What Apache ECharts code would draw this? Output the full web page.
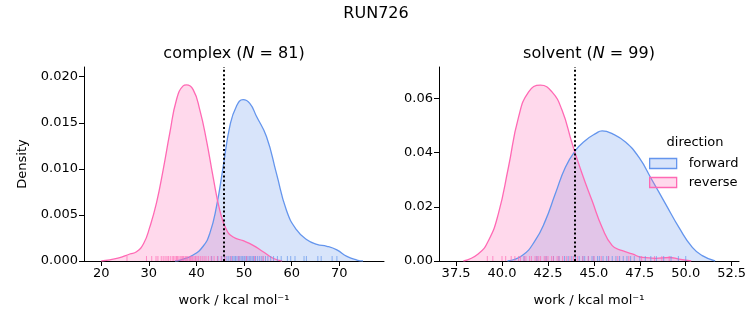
<!DOCTYPE html>
<html>
<head>
<meta charset="utf-8">
<script src="https://cdn.jsdelivr.net/npm/echarts@6/dist/echarts.min.js"></script>
<style>
html,body{margin:0;padding:0;background:#fff;}
#chart{width:753px;height:325px;}
</style>
</head>
<body>
<div id="chart"></div>
<script>
// ---- data ----
const suptitle = 'RUN726';
const panelNames = ['complex', 'solvent'];
const panelN = [81, 99];
const directions = ['forward', 'reverse'];
const xAxisName = 'work / kcal mol⁻¹';

// complex panel: KDE curves
const complexFwdX = [35.5, 36.6, 39.3, 41.4, 42.8, 44.2, 45.6, 47.0, 48.4, 49.8, 51.2, 52.6, 54.7, 56.8, 58.9, 61.0, 63.2, 65.3, 67.4, 69.5, 71.6, 73.7, 75.0];
const complexFwdY = [0.0, 0.0001, 0.00065, 0.0016, 0.0030, 0.0059, 0.0102, 0.0146, 0.0168, 0.0175, 0.0171, 0.0157, 0.0135, 0.0095, 0.0055, 0.0034, 0.0023, 0.0018, 0.0016, 0.0012, 0.0005, 0.0001, 0.0];
const complexRevX = [20.0, 23.5, 26.0, 27.4, 28.9, 30.2, 31.6, 33.0, 34.4, 35.8, 37.2, 37.9, 39.3, 40.7, 42.1, 43.5, 44.9, 46.3, 47.7, 49.8, 51.9, 54.0, 56.1, 58.0];
const complexRevY = [0.0, 0.0003, 0.00076, 0.0010, 0.0019, 0.0037, 0.0063, 0.0099, 0.0139, 0.0175, 0.0190, 0.0191, 0.0186, 0.0164, 0.0131, 0.0091, 0.0055, 0.0034, 0.0026, 0.0022, 0.0017, 0.0010, 0.0003, 0.0];
// complex panel: rug samples
const complexFwdRug = [43.2, 44.5, 45.3, 45.9, 46.4, 46.8, 47.2, 47.6, 47.9, 48.2, 48.5, 48.8, 49.1, 49.4, 49.7, 50.0, 50.2, 50.5, 50.8, 51.1, 51.4, 51.7, 52.0, 52.4, 52.8, 53.2, 53.6, 54.0, 54.5, 55.0, 55.6, 56.2, 57.0, 57.8, 59.1, 59.8, 60.7, 62.6, 63.1, 65.5, 66.2, 68.5, 69.5];
const complexRevRug = [25.4, 29.5, 30.6, 31.5, 31.9, 32.6, 33.0, 33.4, 33.8, 34.1, 34.5, 34.9, 35.2, 35.5, 35.8, 36.0, 36.3, 36.6, 36.9, 37.1, 37.3, 37.6, 37.8, 38.0, 38.2, 38.5, 38.7, 38.9, 39.2, 39.5, 39.8, 40.1, 40.4, 40.8, 41.2, 41.6, 42.0, 42.5, 43.1, 43.7, 44.4, 45.2, 46.0, 47.3, 48.9, 50.5, 52.2, 54.0];
const complexCutoff = 45.8;

// solvent panel: KDE curves
const solventFwdX = [40.3, 41.1, 41.8, 42.36, 42.9, 43.45, 44.0, 44.54, 45.09, 45.45, 46.0, 46.72, 47.45, 48.18, 48.9, 49.63, 50.36, 50.9, 51.6];
const solventFwdY = [0.0, 0.002, 0.0075, 0.0149, 0.0248, 0.0346, 0.0408, 0.0445, 0.0470, 0.0480, 0.0470, 0.0439, 0.0383, 0.0297, 0.0211, 0.0124, 0.0050, 0.0020, 0.0];
const solventRevX = [37.9, 38.7, 39.26, 39.8, 40.35, 40.9, 41.45, 42.09, 42.72, 43.27, 43.82, 44.36, 44.9, 45.45, 46.0, 46.55, 47.09, 47.64, 48.36, 49.1, 49.63, 50.3];
const solventRevY = [0.0, 0.0026, 0.0075, 0.0174, 0.0346, 0.0531, 0.0624, 0.0649, 0.0624, 0.0556, 0.0433, 0.0322, 0.0223, 0.0124, 0.0057, 0.0038, 0.0026, 0.0013, 0.0010, 0.0013, 0.0007, 0.0];
// solvent panel: rug samples
const solventFwdRug = [41.2, 41.9, 42.4, 42.8, 43.1, 43.4, 43.6, 43.8, 44.0, 44.2, 44.4, 44.5, 44.7, 44.9, 45.0, 45.2, 45.3, 45.5, 45.7, 45.8, 46.0, 46.2, 46.4, 46.6, 46.8, 47.0, 47.2, 47.5, 47.8, 48.1, 48.4, 48.8, 49.2, 49.6, 50.0];
const solventRevRug = [39.2, 39.5, 40.0, 40.2, 40.5, 40.7, 40.9, 41.0, 41.2, 41.3, 41.5, 41.6, 41.8, 41.9, 42.0, 42.1, 42.3, 42.4, 42.5, 42.7, 42.8, 43.0, 43.1, 43.3, 43.5, 43.7, 43.9, 44.1, 44.4, 44.7, 45.0, 45.4, 45.8, 46.3, 46.9, 47.6, 48.3, 48.7, 49.1];
const solventCutoff = 43.95;

// tick labels
const complexXTicks = [20, 30, 40, 50, 60, 70];
const complexYTicks = [0, 0.005, 0.010, 0.015, 0.020];
const solventXTicks = [37.5, 40.0, 42.5, 45.0, 47.5, 50.0, 52.5];
const solventYTicks = [0, 0.02, 0.04, 0.06];

// ---- styling ----
const FONT = 'DejaVu Sans';
const BLUE = '#6495ED', PINK = '#FF69B4';
const BLUE_FILL = 'rgba(100,149,237,0.25)', PINK_FILL = 'rgba(255,105,180,0.25)';

const zip = (xs, ys) => xs.map((x, i) => [x, ys[i]]);
const rug = xs => xs.map(x => [x, 0]);

function xAxisCfg(grid, min, max, ticks, dec) {
  return {
    type: 'value', gridIndex: grid, min: min, max: max,
    name: xAxisName, nameLocation: 'middle', nameGap: 33,
    nameTextStyle: {fontFamily: FONT, fontSize: 13, color: '#000'},
    axisLine: {show: true, onZero: false, lineStyle: {color: '#000', width: 1}},
    axisTick: {show: true, length: 5, lineStyle: {color: '#000', width: 1}, customValues: ticks},
    axisLabel: {fontFamily: FONT, fontSize: 13, color: '#000', margin: 6, customValues: ticks,
      formatter: v => v.toFixed(dec)},
    splitLine: {show: false}
  };
}
function yAxisCfg(grid, max, ticks, dec, name) {
  return {
    type: 'value', gridIndex: grid, min: 0, max: max,
    name: name, nameLocation: 'middle', nameGap: 55, nameRotate: 90,
    nameTextStyle: {fontFamily: FONT, fontSize: 13, color: '#000'},
    axisLine: {show: true, lineStyle: {color: '#000', width: 1}},
    axisTick: {show: true, length: 5, lineStyle: {color: '#000', width: 1}, customValues: ticks},
    axisLabel: {fontFamily: FONT, fontSize: 13, color: '#000', margin: 6, customValues: ticks,
      formatter: v => v.toFixed(dec)},
    splitLine: {show: false}
  };
}
function kde(name, grid, data, color, fill, cut) {
  const s = {
    name: name, type: 'line', xAxisIndex: grid, yAxisIndex: grid,
    data: data, smooth: 0.5, showSymbol: false, symbol: 'none', sampling: null,
    lineStyle: {color: color, width: 1.3}, itemStyle: {color: fill},
    areaStyle: {color: fill, opacity: 1, origin: 'start'}, silent: true, z: 2
  };
  if (cut !== undefined) {
    s.markLine = {silent: true, symbol: 'none', label: {show: false},
      lineStyle: {color: '#000', width: 2, type: [2, 2.4]},
      data: [{xAxis: cut}], z: 5};
  }
  return s;
}
function rugSeries(name, grid, data, color) {
  return {
    name: name, type: 'scatter', xAxisIndex: grid, yAxisIndex: grid,
    data: data, symbol: 'rect', symbolSize: [1, 5], symbolOffset: [0, -2.5],
    itemStyle: {color: color, opacity: 0.7}, silent: true, z: 3
  };
}
function panelTitle(i, cx) {
  return {
    text: '{a|' + panelNames[i] + ' (}{i|N}{a| = ' + panelN[i] + ')}',
    left: cx, top: 46, textAlign: 'center', padding: 0,
    textStyle: {fontWeight: 'normal', rich: {
      a: {fontFamily: FONT, fontSize: 16, fontWeight: 'normal', color: '#000'},
      i: {fontFamily: FONT, fontSize: 16, fontWeight: 'normal', fontStyle: 'italic', color: '#000'}
    }}
  };
}

const chart = echarts.init(document.getElementById('chart'), null, {renderer: 'canvas'});
chart.setOption({
  backgroundColor: '#fff',
  animation: false,
  title: [
    {text: suptitle, left: 376, top: 6, textAlign: 'center', padding: 0,
     textStyle: {fontFamily: FONT, fontSize: 16, fontWeight: 'normal', color: '#000'}},
    panelTitle(0, 234),
    panelTitle(1, 589),
    {text: 'direction', left: 695, top: 136, textAlign: 'center', padding: 0,
     textStyle: {fontFamily: FONT, fontSize: 13, fontWeight: 'normal', color: '#000'}}
  ],
  legend: {
    orient: 'vertical', left: 649, top: 157, itemWidth: 27, itemHeight: 10, itemGap: 6,
    padding: 0, selectedMode: false,
    textStyle: {fontFamily: FONT, fontSize: 13, color: '#000', padding: [0, 0, 0, 7]},
    data: [
      {name: directions[0], icon: 'rect', itemStyle: {color: BLUE_FILL, borderColor: BLUE, borderWidth: 1.3}},
      {name: directions[1], icon: 'rect', itemStyle: {color: PINK_FILL, borderColor: PINK, borderWidth: 1.3}}
    ]
  },
  grid: [
    {left: 84, top: 67, width: 300, height: 194, outerBoundsMode: 'none'},
    {left: 439, top: 67, width: 300, height: 194, outerBoundsMode: 'none'}
  ],
  xAxis: [
    xAxisCfg(0, 16.37, 79.4, complexXTicks, 0),
    xAxisCfg(1, 36.57, 52.9, solventXTicks, 1)
  ],
  yAxis: [
    yAxisCfg(0, 0.02105, complexYTicks, 3, 'Density'),
    yAxisCfg(1, 0.0716, solventYTicks, 2, '')
  ],
  series: [
    kde(directions[0], 0, zip(complexFwdX, complexFwdY), BLUE, BLUE_FILL, complexCutoff),
    kde(directions[1], 0, zip(complexRevX, complexRevY), PINK, PINK_FILL),
    rugSeries(directions[0], 0, rug(complexFwdRug), BLUE),
    rugSeries(directions[1], 0, rug(complexRevRug), PINK),
    kde(directions[0], 1, zip(solventFwdX, solventFwdY), BLUE, BLUE_FILL, solventCutoff),
    kde(directions[1], 1, zip(solventRevX, solventRevY), PINK, PINK_FILL),
    rugSeries(directions[0], 1, rug(solventFwdRug), BLUE),
    rugSeries(directions[1], 1, rug(solventRevRug), PINK)
  ]
});
</script>
</body>
</html>
